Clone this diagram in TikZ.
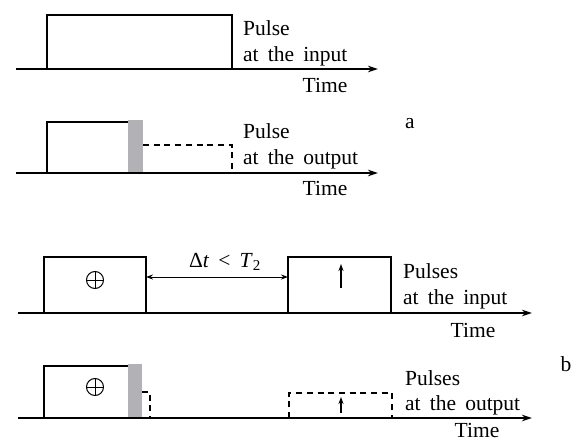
\documentclass[tikz,border=0pt]{standalone}
\usepackage{fontspec}
\setmainfont{Liberation Serif}[WordSpace=1.7]
\usetikzlibrary{arrows.meta}
\definecolor{barGray}{RGB}{178,178,182}
\begin{document}
\begin{tikzpicture}[x=1pt,y=-1pt,
  axisline/.style={line width=1.4pt,-{Stealth[length=10pt,width=6.5pt]}},
  pulseline/.style={line width=2.3pt},
  dpulse/.style={line width=2.3pt,dash pattern=on 6pt off 4.7pt},
  gbar/.style={fill=barGray,draw=none},
  lbl/.style={inner sep=0pt,anchor=base west,font=\fontsize{21.5}{26}\selectfont},
  tlbl/.style={inner sep=0pt,anchor=base,font=\fontsize{21.5}{26}\selectfont},
  thin arrow/.style={line width=1.1pt,-{Stealth[length=7pt,width=5pt]}},
  dbl arrow/.style={line width=1pt,{Stealth[length=7pt,width=5pt]}-{Stealth[length=7pt,width=5pt]}},
  oplus/.style={line width=1pt}]
\useasboundingbox (0,0) rectangle (576,442);

% ---------------- panel a, input ----------------
\coordinate (a1s) at (16,69);
\coordinate (a1e) at (378,69);
\draw[axisline] (a1s) -- (a1e);
\draw[pulseline] (47,69) -- (47,15) -- (232,15) -- (232,69);
\node[lbl] (a1p) at (243,35) {Pulse};
\node[lbl] (a1q) at (243,61) {at the input};
\node[tlbl] (a1t) at (325,92) {Time};
\node[tlbl] (alab) at (410,128) {a};

% ---------------- panel a, output ----------------
\coordinate (a2s) at (16,173);
\coordinate (a2e) at (378,173);
\fill[gbar] (128,120) rectangle (143,173);
\draw[axisline] (a2s) -- (a2e);
\draw[pulseline] (47,173) -- (47,122) -- (128,122);
\draw[dpulse] (143,145) -- (232,145) -- (232,173);
\node[lbl] (a2p) at (243,138) {Pulse};
\node[lbl] (a2q) at (243,164) {at the output};
\node[tlbl] (a2t) at (325,195) {Time};

% ---------------- panel b, input ----------------
\coordinate (b1s) at (18,313);
\coordinate (b1e) at (532,313);
\draw[axisline] (b1s) -- (b1e);
\draw[pulseline] (44,313) -- (44,257) -- (146,257) -- (146,313);
\draw[pulseline] (288,313) -- (288,257) -- (391,257) -- (391,313);
\draw[oplus] (95,280) circle (8.5);
\draw[oplus] (86.5,280) -- (103.5,280) (95,271.5) -- (95,288.5);
\coordinate (p1r) at (146,277);
\coordinate (p2l) at (288,277);
\draw[dbl arrow] (p1r) -- (p2l);
\node[tlbl] (dt) at (225,267) {Δ\textit{t} < \textit{T}\textsubscript{2}};
\coordinate (u1a) at (341,288);
\coordinate (u1b) at (341,264);
\draw[thin arrow] (u1a) -- (u1b);
\node[lbl] (b1p) at (403,278) {Pulses};
\node[lbl] (b1q) at (403,304) {at the input};
\node[tlbl] (b1t) at (473,337) {Time};

% ---------------- panel b, output ----------------
\coordinate (b2s) at (18,418);
\coordinate (b2e) at (532,418);
\fill[gbar] (128,364) rectangle (142,418);
\draw[axisline] (b2s) -- (b2e);
\draw[pulseline] (44,418) -- (44,366) -- (128,366);
\draw[dpulse] (142,392) -- (150,392) -- (150,418);
\draw[dpulse] (289,418) -- (289,393) -- (392,393) -- (392,418);
\draw[oplus] (95,387) circle (8.5);
\draw[oplus] (86.5,387) -- (103.5,387) (95,378.5) -- (95,395.5);
\coordinate (u2a) at (341,413);
\coordinate (u2b) at (341,397);
\draw[thin arrow] (u2a) -- (u2b);
\node[lbl] (b2p) at (405,385) {Pulses};
\node[lbl] (b2q) at (405,410) {at the output};
\node[tlbl] (b2t) at (477,437) {Time};
\node[tlbl] (blab) at (566,371) {b};
\end{tikzpicture}
\end{document}
